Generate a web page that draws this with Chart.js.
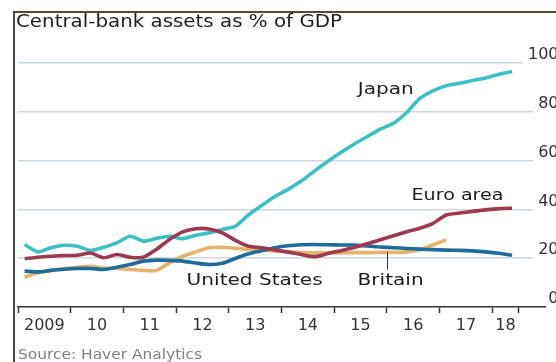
<!DOCTYPE html>
<html>
<head>
<meta charset="utf-8">
<script src="https://cdn.jsdelivr.net/npm/chart.js@4.4.1/dist/chart.umd.min.js"></script>
<style>
  html, body { margin: 0; padding: 0; background: #fff; overflow: hidden; }
  .frame {
    position: absolute; left: 13px; top: 11px;
    width: 541px; height: 349px;
    border-top: 2px solid #4f4a39; border-left: 2px solid #4f4a39;
  }
  canvas { display: block; }
</style>
</head>
<body>
<div class="frame"><canvas id="chart" width="541" height="349"></canvas></div>
<script>
// quarterly observations, 2009Q1 - 2018Q2
const quarters = [
  "2009Q1", "2009Q2", "2009Q3", "2009Q4", "2010Q1", "2010Q2", "2010Q3", "2010Q4",
  "2011Q1", "2011Q2", "2011Q3", "2011Q4", "2012Q1", "2012Q2", "2012Q3", "2012Q4",
  "2013Q1", "2013Q2", "2013Q3", "2013Q4", "2014Q1", "2014Q2", "2014Q3", "2014Q4",
  "2015Q1", "2015Q2", "2015Q3", "2015Q4", "2016Q1", "2016Q2", "2016Q3", "2016Q4",
  "2017Q1", "2017Q2", "2017Q3", "2017Q4", "2018Q1", "2018Q2",
];

// central-bank assets, % of GDP
const japan = [
  25.6, 22.6, 24.3, 25.3, 24.9, 23.2, 24.5, 26.3, 29.0, 27.0, 28.1, 29.0, 28.0, 29.4,
  30.4, 31.8, 33.1, 37.8, 41.6, 45.3, 48.2, 51.6, 55.7, 59.6, 63.3, 66.7, 69.8, 72.9,
  75.3, 79.7, 85.5, 88.6, 90.7, 91.7, 92.8, 93.9, 95.4, 96.5,
];
const euroArea = [
  19.8, 20.4, 20.8, 21.1, 21.2, 22.1, 20.2, 21.5, 20.4, 20.4, 23.6, 27.7, 30.8, 32.1,
  32.0, 30.4, 27.3, 24.9, 24.3, 23.4, 22.5, 21.5, 20.6, 21.9, 23.1, 24.4, 25.9, 27.6,
  29.2, 30.8, 32.3, 34.3, 37.7, 38.5, 39.2, 39.8, 40.3, 40.5,
];
const unitedStates = [
  14.7, 14.4, 15.0, 15.5, 15.8, 15.8, 15.4, 16.3, 17.4, 18.8, 19.2, 19.1, 18.8, 18.0,
  17.4, 17.9, 19.9, 21.8, 23.1, 24.3, 25.1, 25.5, 25.6, 25.5, 25.4, 25.4, 25.0, 24.6,
  24.3, 24.0, 23.7, 23.5, 23.3, 23.2, 23.0, 22.6, 22.0, 21.2,
];
const britain = [
  12.2, 14.0, 15.0, 15.8, 16.3, 16.7, 16.0, 15.8, 15.4, 15.0, 15.0, 18.1, 20.8, 22.6,
  24.3, 24.5, 24.1, 23.6, 23.3, 23.0, 22.6, 22.3, 22.2, 22.2, 22.2, 22.3, 22.3, 22.4,
  22.4, 22.6, 23.5, 25.5, 27.5,
];

// x axis: tick marks on year boundaries, labels in the middle of each year
const yearTicks = [2009, 2010, 2011, 2012, 2013, 2014, 2015, 2016, 2017, 2018, 2018.5];
const yearLabelAt = [2009.5, 2010.5, 2011.5, 2012.5, 2013.5, 2014.5, 2015.5, 2016.5, 2017.5, 2018.25];
const yearLabels = ["2009", "10", "11", "12", "13", "14", "15", "16", "17", "18"];
const yTicks = [0, 20, 40, 60, 80, 100];

const heading = "Central-bank assets as % of GDP";
const source = "Source: Haver Analytics";

// direct labels on the chart (x in years, y in % of GDP) and their set widths
const seriesNames = ["Japan", "Euro area", "United States", "Britain"];
const namePos = [[2015.98, 89], [2017.34, 45.5], [2013.49, 10.7], [2016.07, 10.7]];
const nameWidth = [56, 92, 136, 66];
const britainPointer = { x: 2016.01, from: 22.6, to: 15.3 };

const FONT = "DejaVu Sans";
Chart.defaults.font.family = FONT;

function quarterToYear(q) {
  return parseInt(q.slice(0, 4)) + (Number(q.slice(-1)) - 0.5) / 4;
}

function toPoints(values) {
  return values.map((v, i) => ({ x: quarterToYear(quarters[i]), y: v }));
}

// draw text stretched horizontally to a set width (wide Economist lettering)
function fillTextWide(ctx, text, x, y, width) {
  const k = width / ctx.measureText(text).width;
  ctx.save();
  ctx.translate(x, y);
  ctx.scale(k, 1);
  ctx.fillText(text, 0, 0);
  ctx.restore();
}

// heading at the top left, source note at the bottom left
const captions = {
  id: "captions",
  afterDraw(chart) {
    const ctx = chart.ctx;
    ctx.save();
    ctx.textAlign = "left";
    ctx.textBaseline = "middle";
    ctx.font = `18px "${FONT}"`;
    ctx.fillStyle = "#1d1d1b";
    fillTextWide(ctx, heading, 1, 9.8, 326);
    ctx.font = `13.5px "${FONT}"`;
    ctx.fillStyle = "#808080";
    fillTextWide(ctx, source, 3, 342.3, 184);
    ctx.restore();
  },
};

const seriesLabels = {
  id: "seriesLabels",
  afterDatasetsDraw(chart) {
    const { ctx, scales: { x, y } } = chart;
    ctx.save();
    ctx.font = `16px "${FONT}"`;
    ctx.fillStyle = "#1d1d1b";
    ctx.textAlign = "center";
    ctx.textBaseline = "middle";
    seriesNames.forEach((name, i) => {
      fillTextWide(ctx, name, x.getPixelForValue(namePos[i][0]), y.getPixelForValue(namePos[i][1]), nameWidth[i]);
    });
    const px = Math.round(x.getPixelForValue(britainPointer.x)) + 0.5;
    ctx.strokeStyle = "#333";
    ctx.lineWidth = 1;
    ctx.beginPath();
    ctx.moveTo(px, y.getPixelForValue(britainPointer.from));
    ctx.lineTo(px, y.getPixelForValue(britainPointer.to));
    ctx.stroke();
    ctx.restore();
  },
};

function line(label, values, color) {
  return {
    label: label,
    data: toPoints(values),
    borderColor: color,
    borderWidth: 3.6,
    pointRadius: 0,
    tension: 0.25,
    fill: false,
  };
}

const ctx = document.getElementById("chart").getContext("2d");
const chart = new Chart(ctx, {
  type: "line",
  data: {
    datasets: [
      line("Euro area", euroArea, "#9e3a4f"),
      line("Japan", japan, "#3bbfc9"),
      line("United States", unitedStates, "#1e6c9c"),
      line("Britain", britain, "#e6b36c"),
    ],
  },
  options: {
    responsive: false,
    animation: false,
    events: [],
    layout: { padding: { left: 1, right: 11, top: 50, bottom: 25 } },
    plugins: {
      legend: { display: false },
      tooltip: { enabled: false },
    },
    scales: {
      x: {
        type: "linear",
        min: 2009,
        max: 2019,
        afterBuildTicks: (scale) => {
          scale.ticks = yearTicks.concat(yearLabelAt)
            .sort((a, b) => a - b)
            .map((v) => ({ value: v }));
        },
        afterFit: (scale) => { scale.height = 30; },
        ticks: {
          autoSkip: false,
          maxRotation: 0,
          padding: 3,
          color: "#333",
          font: { size: 16 },
          callback: (v) => {
            const i = yearLabelAt.indexOf(v);
            return i < 0 ? "" : yearLabels[i];
          },
        },
        grid: {
          drawOnChartArea: false,
          tickLength: 6,
          tickWidth: 1.5,
          tickColor: (c) => (c.tick && yearTicks.includes(c.tick.value) ? "#333" : "rgba(0,0,0,0)"),
        },
        border: { color: "#333", width: 1.5 },
      },
      y: {
        position: "right",
        min: 0,
        max: 100,
        afterBuildTicks: (scale) => { scale.ticks = yTicks.map((v) => ({ value: v })); },
        afterFit: (scale) => { scale.width = 0; },
        ticks: {
          mirror: true,
          padding: 13.5,
          labelOffset: -8,
          color: "#333",
          font: { size: 16 },
          showLabelBackdrop: true,
          backdropColor: (c) => (c.tick && c.tick.value === 0 ? "rgba(0,0,0,0)" : "#fff"),
          backdropPadding: { left: 5, right: 0, top: 0, bottom: 0 },
        },
        grid: {
          drawTicks: false,
          lineWidth: 1.5,
          color: (c) => (c.tick && c.tick.value === 0 ? "rgba(0,0,0,0)" : "#cfd7de"),
        },
        border: { display: false },
      },
    },
  },
  plugins: [captions, seriesLabels],
});
</script>
</body>
</html>
